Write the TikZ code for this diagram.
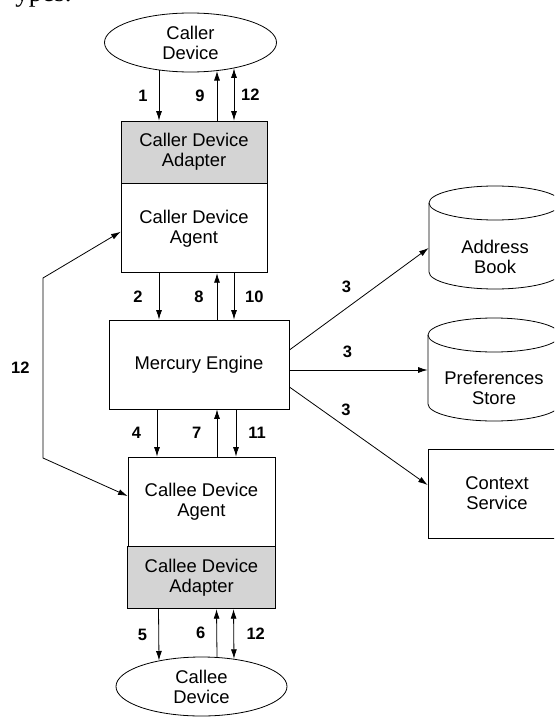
\documentclass[tikz,border=0pt]{standalone}
\usepackage{fontspec}
\setmainfont{Liberation Sans}
\newfontfamily\pagefont{Liberation Serif}
\usetikzlibrary{arrows.meta,positioning,shapes.geometric,calc}

\begin{document}
\begin{tikzpicture}[x=1pt, y=-1pt, ->, >={Latex[length=9.5pt,width=6pt]}, line width=0.8pt, font=\fontsize{18.4}{20}\selectfont]
		\tikzstyle{block}=[draw=black, rectangle, align=center, inner sep=0pt, minimum width=146pt, minimum height=89pt]
		\tikzstyle{adapter}=[block, fill=black!17, minimum height=62pt]
		\tikzstyle{device}=[draw=black, ellipse, align=center, inner sep=0pt, minimum width=172pt, minimum height=59pt]
		\tikzstyle{storetext}=[align=center, inner sep=0pt, minimum width=132pt]
		\tikzstyle{lbl}=[font=\fontsize{16.5}{17}\selectfont\bfseries, inner sep=2pt]
		\useasboundingbox (0,0) rectangle (554,717);
		\clip (0,0) rectangle (554,717);

		% cut-off page text
		\node[anchor=base west, inner sep=0pt, font=\pagefont\fontsize{27}{27}\selectfont] (pagetext) at (15,2) {ypes.};

		\node[device] (cdev) at (190.5,42.5) {Caller\\Device};
		\node[adapter] (cadapt) at (194,152) {Caller Device\\Adapter};
		\node[block] (cagent) [below=0pt of cadapt] {Caller Device\\Agent};
		\node[block, minimum width=180pt] (engine) at (199,364.5) {Mercury Engine};
		\node[block, minimum width=147pt] (eagent) at (201.5,501.5) {Callee Device\\Agent};
		\node[adapter, minimum width=148pt] (eadapt) [below=0pt of eagent] {Callee Device\\Adapter};
		\node[device, minimum width=171pt] (edev) at (201.5,686.5) {Callee\\Device};

		% stores on the right
		\draw[-] (495,203) ellipse [x radius=66pt, y radius=17pt];
		\draw[-] (429,203) -- (429,272) arc[start angle=180, end angle=360, x radius=66pt, y radius=17pt] -- (561,203);
		\node[storetext] (book) at (495,257) {Address\\Book};
		\draw[-] (494,335) ellipse [x radius=66pt, y radius=17pt];
		\draw[-] (428,335) -- (428,404) arc[start angle=180, end angle=360, x radius=66pt, y radius=17pt] -- (560,335);
		\node[storetext] (prefs) at (494,388) {Preferences\\Store};
		\node[block, minimum width=138pt] (context) at (497,493.5) {Context\\Service};

		% caller side
		\draw[->] ([xshift=-31.5pt,yshift=2pt]cdev.south) -- node[lbl,left=9pt] {1} ([xshift=-35pt]cadapt.north);
		\draw[->] ([xshift=23pt]cadapt.north) -- node[lbl,left=10pt] {9} ([xshift=26.5pt,yshift=1.4pt]cdev.south);
		\draw[<->] ([xshift=40pt]cadapt.north) -- node[lbl,right=4.7pt] {12} ([xshift=43.5pt,yshift=4pt]cdev.south);
		\draw[->] ([xshift=-35pt]cagent.south) -- node[lbl,left=14pt] {2} ([xshift=-40pt]engine.north);
		\draw[->] ([xshift=18pt]engine.north) -- node[lbl,left=11pt] {8} ([xshift=23pt]cagent.south);
		\draw[->] ([xshift=40pt]cagent.south) -- node[lbl,right=8.7pt] {10} ([xshift=35pt]engine.north);

		% callee side
		\draw[->] ([xshift=-42pt]engine.south) -- node[lbl,left=13.6pt] {4} ([xshift=-44.5pt]eagent.north);
		\draw[->] ([xshift=15.5pt]eagent.north) -- node[lbl,left=13.3pt] {7} ([xshift=18pt]engine.south);
		\draw[->] ([xshift=37pt]engine.south) -- node[lbl,right=10pt] {11} ([xshift=34.5pt]eagent.north);
		\draw[->] ([xshift=-43pt]eadapt.south) -- node[lbl,left=9.3pt] {5} ([xshift=-42.5pt,yshift=-3.9pt]edev.north);
		\draw[->] ([xshift=15.5pt,yshift=-0.5pt]edev.north) -- node[lbl,left=9pt] {6} ([xshift=15pt]eadapt.south);
		\draw[<->] ([xshift=32pt]eadapt.south) -- node[lbl,right=10.4pt] {12} ([xshift=32.5pt,yshift=-2.2pt]edev.north);

		% agent to agent
		\coordinate (ltop) at (43,278);
		\coordinate (lbot) at (43,458);
		\draw[<->] ([yshift=-3.5pt]cagent.west) -- (ltop) -- node[lbl,left=11pt] {12} (lbot) -- ([yshift=5.5pt]eagent.west);

		% lookups
		\draw[->] ([yshift=14.5pt]engine.east) -- node[lbl,pos=0.41,above=13pt] {3} ([yshift=9pt]book.west);
		\draw[->] ([yshift=-5.5pt]engine.east) -- node[lbl,pos=0.42,above=10pt] {3} ([yshift=18pt]prefs.west);
		\draw[->] ([yshift=-22.5pt]engine.east) -- node[lbl,pos=0.41,above=9pt] {3} ([yshift=8.5pt]context.west);
	\end{tikzpicture}
\end{document}
